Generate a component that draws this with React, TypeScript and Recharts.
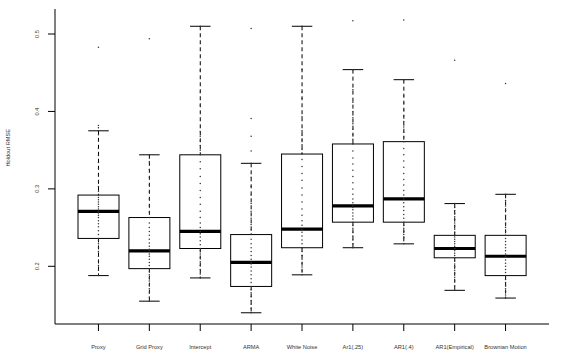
import { ComposedChart, Bar, Scatter, XAxis, YAxis, ReferenceArea } from "recharts"

// categories and five-number summaries
const categories = ["Proxy", "Grid Proxy", "Intercept", "ARMA", "White Noise", "Ar1(.25)", "AR1(.4)", "AR1(Empirical)", "Brownian Motion"]
const lowWhisker = [0.188, 0.155, 0.185, 0.14, 0.189, 0.224, 0.229, 0.169, 0.159]
const lowerQuartile = [0.236, 0.197, 0.223, 0.174, 0.224, 0.257, 0.257, 0.211, 0.188]
const medians = [0.271, 0.22, 0.245, 0.205, 0.248, 0.278, 0.287, 0.223, 0.213]
const upperQuartile = [0.292, 0.263, 0.344, 0.241, 0.345, 0.358, 0.361, 0.24, 0.24]
const highWhisker = [0.375, 0.344, 0.51, 0.333, 0.51, 0.454, 0.441, 0.281, 0.293]

// strip points per category (estimated)
const samples = [
  [0.188, 0.195, 0.201, 0.207, 0.213, 0.219, 0.224, 0.229, 0.233, 0.236, 0.241, 0.246, 0.251, 0.255, 0.259, 0.263, 0.266, 0.269, 0.271, 0.274, 0.277, 0.28, 0.283, 0.286, 0.289, 0.292, 0.297, 0.303, 0.31, 0.318, 0.326, 0.334, 0.343, 0.352, 0.362, 0.37, 0.375, 0.379, 0.382, 0.483],
  [0.155, 0.16, 0.166, 0.171, 0.176, 0.181, 0.185, 0.189, 0.193, 0.197, 0.201, 0.205, 0.209, 0.213, 0.216, 0.22, 0.222, 0.226, 0.23, 0.235, 0.24, 0.245, 0.25, 0.256, 0.263, 0.27, 0.278, 0.287, 0.296, 0.305, 0.315, 0.325, 0.335, 0.344, 0.494],
  [0.185, 0.19, 0.196, 0.201, 0.206, 0.211, 0.216, 0.22, 0.223, 0.228, 0.233, 0.238, 0.242, 0.245, 0.25, 0.256, 0.263, 0.271, 0.28, 0.289, 0.298, 0.307, 0.316, 0.326, 0.335, 0.344, 0.35, 0.356, 0.362, 0.368, 0.374, 0.408, 0.425, 0.453, 0.51],
  [0.14, 0.146, 0.151, 0.156, 0.161, 0.166, 0.17, 0.174, 0.179, 0.184, 0.189, 0.194, 0.199, 0.203, 0.205, 0.209, 0.214, 0.219, 0.224, 0.229, 0.235, 0.241, 0.247, 0.254, 0.262, 0.271, 0.281, 0.292, 0.303, 0.315, 0.333, 0.349, 0.368, 0.391, 0.507],
  [0.189, 0.194, 0.199, 0.204, 0.209, 0.214, 0.219, 0.224, 0.229, 0.234, 0.239, 0.244, 0.248, 0.253, 0.259, 0.266, 0.274, 0.283, 0.292, 0.301, 0.311, 0.32, 0.329, 0.338, 0.345, 0.351, 0.357, 0.363, 0.369, 0.375, 0.393, 0.417, 0.425, 0.454, 0.51],
  [0.224, 0.229, 0.234, 0.239, 0.244, 0.249, 0.253, 0.257, 0.261, 0.265, 0.269, 0.273, 0.276, 0.278, 0.282, 0.287, 0.293, 0.3, 0.308, 0.316, 0.324, 0.332, 0.34, 0.349, 0.358, 0.364, 0.37, 0.377, 0.384, 0.392, 0.4, 0.412, 0.428, 0.454, 0.517],
  [0.229, 0.233, 0.237, 0.241, 0.245, 0.249, 0.253, 0.257, 0.262, 0.267, 0.272, 0.277, 0.282, 0.287, 0.292, 0.298, 0.305, 0.312, 0.32, 0.328, 0.336, 0.344, 0.352, 0.361, 0.367, 0.373, 0.38, 0.387, 0.394, 0.402, 0.411, 0.42, 0.441, 0.518],
  [0.169, 0.175, 0.181, 0.186, 0.191, 0.195, 0.199, 0.203, 0.207, 0.211, 0.214, 0.217, 0.22, 0.223, 0.226, 0.229, 0.232, 0.235, 0.238, 0.24, 0.244, 0.248, 0.252, 0.256, 0.26, 0.264, 0.268, 0.272, 0.276, 0.281, 0.466],
  [0.159, 0.163, 0.167, 0.171, 0.175, 0.179, 0.183, 0.188, 0.192, 0.196, 0.2, 0.204, 0.208, 0.213, 0.216, 0.22, 0.224, 0.228, 0.232, 0.236, 0.24, 0.245, 0.25, 0.255, 0.26, 0.266, 0.272, 0.278, 0.285, 0.293, 0.436],
]

const yTicks = [0.2, 0.3, 0.4, 0.5]
const yDomain = [0.1255, 0.5323]

const FONT = "'Liberation Sans', Arial, sans-serif"

const boxData = categories.map((name, i) => ({
  name,
  range: [lowWhisker[i], highWhisker[i]],
  lo: lowWhisker[i],
  q1: lowerQuartile[i],
  med: medians[i],
  q3: upperQuartile[i],
  hi: highWhisker[i],
}))

const pointData = categories.flatMap((name, i) => samples[i].map((v) => ({ name, v })))

// whisker bar shape: box, median, dashed whiskers and staples
function BoxShape(props: any) {
  const { x, y, width, height, payload } = props
  const top = Math.min(y, y + height)
  const bot = Math.max(y, y + height)
  const toPx = (v: number) => bot - ((v - payload.lo) / (payload.hi - payload.lo)) * (bot - top)
  const cx = x + width / 2
  const cap = width / 2
  const yq1 = toPx(payload.q1)
  const yq3 = toPx(payload.q3)
  const ym = toPx(payload.med)
  return (
    <g>
      <line x1={cx} x2={cx} y1={top} y2={yq3} stroke="#000" strokeDasharray="4 3" />
      <line x1={cx} x2={cx} y1={yq1} y2={bot} stroke="#000" strokeDasharray="4 3" />
      <line x1={cx - cap / 2} x2={cx + cap / 2} y1={top} y2={top} stroke="#000" />
      <line x1={cx - cap / 2} x2={cx + cap / 2} y1={bot} y2={bot} stroke="#000" />
      <rect x={x} y={yq3} width={width} height={yq1 - yq3} fill="none" stroke="#000" />
      <line x1={x} x2={x + width} y1={ym} y2={ym} stroke="#000" strokeWidth={3.2} />
    </g>
  )
}

function Dot(props: any) {
  const { cx, cy } = props
  return <circle cx={cx} cy={cy} r={0.75} fill="#333" />
}

function YTick(props: any) {
  const { x, y, payload } = props
  return (
    <text x={x} y={y} transform={`rotate(-90, ${x}, ${y})`} textAnchor="middle" fontSize={5.7} fill="#333" fontFamily={FONT}>
      {payload.value.toFixed(1)}
    </text>
  )
}

function XTick(props: any) {
  const { x, y, payload } = props
  return (
    <text x={x} y={y + 15.5} textAnchor="middle" fontSize={5.7} fill="#333" fontFamily={FONT}>
      {payload.value}
    </text>
  )
}

export default function App() {
  return (
    <div style={{ position: "absolute", left: 0, top: 0, width: 566, height: 361, background: "#fff" }}>
      <ComposedChart width={566} height={361} data={boxData} margin={{ top: 9, right: 17, bottom: 0, left: 0 }} barCategoryGap={0}>
        <XAxis
          dataKey="name"
          type="category"
          allowDuplicatedCategory={false}
          padding={{ left: 18, right: 18 }}
          height={37}
          tickSize={7}
          axisLine={{ stroke: "#000" }}
          tickLine={{ stroke: "#000" }}
          tick={<XTick />}
          interval={0}
        />
        <YAxis
          type="number"
          domain={yDomain}
          ticks={yTicks}
          width={55}
          tickSize={7}
          tickMargin={9}
          axisLine={{ stroke: "#000" }}
          tickLine={{ stroke: "#000" }}
          tick={<YTick />}
          allowDataOverflow
          label={{ value: "Holdout RMSE", angle: -90, position: "insideLeft", offset: 8, fontSize: 5.7, fill: "#333", fontFamily: FONT }}
        />
        <YAxis yAxisId="frame" orientation="right" type="number" domain={yDomain} width={0} tick={false} tickLine={false} axisLine={{ stroke: "#000" }} />
        <ReferenceArea fill="none" stroke="#000" strokeWidth={1} ifOverflow="visible" />
        <Bar dataKey="range" barSize={41} shape={<BoxShape />} isAnimationActive={false} />
        <Scatter data={pointData} dataKey="v" shape={<Dot />} isAnimationActive={false} />
      </ComposedChart>
    </div>
  )
}
